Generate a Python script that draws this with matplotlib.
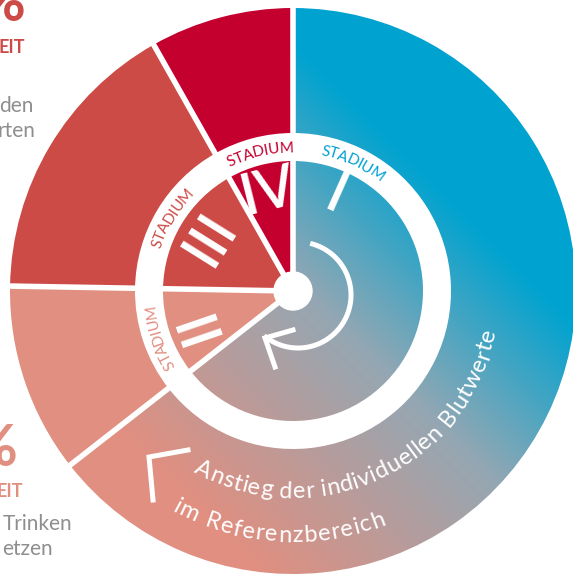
import numpy as np
import matplotlib
matplotlib.use("Agg")
import matplotlib.pyplot as plt
from matplotlib.patches import Wedge, Circle
from matplotlib.colors import LinearSegmentedColormap
from matplotlib.textpath import TextToPath
from matplotlib.font_manager import FontProperties

W, H = 573, 574
FONT = "Lato"

# stage shares in degrees, clockwise from 12 o'clock
stages = ["I", "II", "III", "IV"]
stage_deg = [232.0, 39.0, 59.5, 29.5]
stage_colors = [None, "#e08f80", "#cc4b46", "#c4002f"]
label_colors = ["#00a0d2", "#e08f80", "#cc4b46", "#c4002f"]
label_mid = [65.0, 199.0, 149.0, 103.5]      # where "STADIUM" sits (math angle)
numeral_pos = [(104, 66), (100, 199), (97, 148), (102, 104)]  # (radius, angle)

grad_stops = [(0.0, "#00a3d0"), (0.42, "#94a7b3"), (1.0, "#e08f80")]

arc_lines = ["Anstieg der individuellen Blutwerte", "im Referenzbereich"]
arc_radius = [207, 251]
arc_span = [(-119, -11), (-119, -68)]

left_top = ["%", "EIT", "den", "rten"]
left_bottom = ["%", "EIT", "Trinken", "etzen"]

# geometry in pixels
CX, CY = 293, H - 291
R_OUT, R_RING, R_IN, R_DOT = 283, 158, 130, 19

fig = plt.figure(figsize=(W / 100, H / 100), dpi=100)
ax = fig.add_axes([0, 0, 1, 1])
ax.set_xlim(0, W)
ax.set_ylim(0, H)
ax.axis("off")

# diagonal gradient (top-right blue -> bottom-left salmon)
cmap = LinearSegmentedColormap.from_list("grad", grad_stops)
yy, xx = np.mgrid[0:H, 0:W]
t = np.clip(((yy - xx) + 250) / 560, 0, 1)
img = cmap(t)[..., :3]

starts = np.concatenate([[0], np.cumsum(stage_deg)[:-1]])
for i, (c0, d) in enumerate(zip(starts, stage_deg)):
    th1, th2 = 90 - (c0 + d), 90 - c0
    outer = Wedge((CX, CY), R_OUT, th1, th2, width=R_OUT - R_RING)
    inner = Wedge((CX, CY), R_IN, th1, th2)
    for p in (outer, inner):
        if stage_colors[i] is None:
            p.set_facecolor("none")
            p.set_edgecolor("none")
            ax.add_patch(p)
            im = ax.imshow(img, extent=(0, W, 0, H), origin="upper", zorder=1)
            im.set_clip_path(p)
        else:
            p.set_facecolor(stage_colors[i])
            p.set_edgecolor("none")
            p.set_zorder(1)
            ax.add_patch(p)

# white separators
for c in starts:
    phi = np.radians(90 - c)
    ax.plot([CX, CX + 300 * np.cos(phi)], [CY, CY + 300 * np.sin(phi)],
            color="white", lw=4, zorder=2, solid_capstyle="butt")
ax.add_patch(Circle((CX, CY), R_DOT, color="white", zorder=3))

t2p = TextToPath()


def width_of(s, prop):
    return t2p.get_text_width_height_descent(s, prop, ismath=False)[0]


def arc_text(s, r, phi0, phi1, outward, prop, color):
    bar = width_of("|", prop)
    edges = [0.0] + [width_of(s[:i] + "|", prop) - bar for i in range(1, len(s) + 1)]
    edges = np.array(edges)
    frac = (edges[:-1] + edges[1:]) / 2 / edges[-1]
    for ch, f in zip(s, frac):
        if ch == " ":
            continue
        phi = phi0 + f * (phi1 - phi0)
        rot = phi - 90 if outward else phi + 90
        x = CX + r * np.cos(np.radians(phi))
        y = CY + r * np.sin(np.radians(phi))
        ax.text(x, y, ch, fontproperties=prop, color=color, rotation=rot,
                rotation_mode="anchor", ha="center", va="baseline", zorder=4)


# STADIUM labels in the white ring
lab_prop = FontProperties(family=FONT, size=11)
for mid, col in zip(label_mid, label_colors):
    arc_text("STADIUM", 139, mid + 13.5, mid - 13.5, True, lab_prop, col)

# roman numerals
num_prop = FontProperties(family=FONT, size=41, weight=600)
for s, (r, phi) in zip(stages, numeral_pos):
    x = CX + r * np.cos(np.radians(phi))
    y = CY + r * np.sin(np.radians(phi))
    ax.text(x, y, s, fontproperties=num_prop, color="white", rotation=phi - 90,
            rotation_mode="anchor", ha="center", va="center", zorder=4)

# curved caption in the outer ring
cap_prop = FontProperties(family=FONT, size=17)
for s, r, (p0, p1) in zip(arc_lines, arc_radius, arc_span):
    arc_text(s, r, p0, p1, False, cap_prop, "white")

# circular arrow around the center
a = np.radians(np.linspace(74, -127, 100))
ax.plot(298 + 53 * np.cos(a), (H - 295) + 53 * np.sin(a), color="white", lw=3.6, zorder=4)
ax.plot([293, 265, 275], [H - 330, H - 338, H - 367], color="white", lw=3.6, zorder=4,
        solid_joinstyle="miter")

# corner mark
ax.plot([188, 149, 153], [H - 450, H - 457, H - 500], color="white", lw=3.6, zorder=4,
        solid_joinstyle="miter")

# cropped side texts
ax.text(26, H - 21, left_top[0], family=FONT, weight="bold", size=42, color="#cc4b46",
        ha="right", va="baseline")
ax.text(25, H - 53, left_top[1], family=FONT, weight="bold", size=13, color="#cc4b46",
        ha="right", va="baseline")
ax.text(33, H - 112, left_top[2], family=FONT, size=15, color="#8e8e8e", ha="right", va="baseline")
ax.text(35, H - 137, left_top[3], family=FONT, size=15, color="#8e8e8e", ha="right", va="baseline")

ax.text(18, H - 466, left_bottom[0], family=FONT, weight="bold", size=42, color="#e08f80",
        ha="right", va="baseline")
ax.text(23, H - 497, left_bottom[1], family=FONT, weight="bold", size=13, color="#e08f80",
        ha="right", va="baseline")
ax.text(72, H - 530, left_bottom[2], family=FONT, size=15, color="#8e8e8e", ha="right", va="baseline")
ax.text(53, H - 555, left_bottom[3], family=FONT, size=15, color="#8e8e8e", ha="right", va="baseline")

fig.savefig("out.png", dpi=100)
